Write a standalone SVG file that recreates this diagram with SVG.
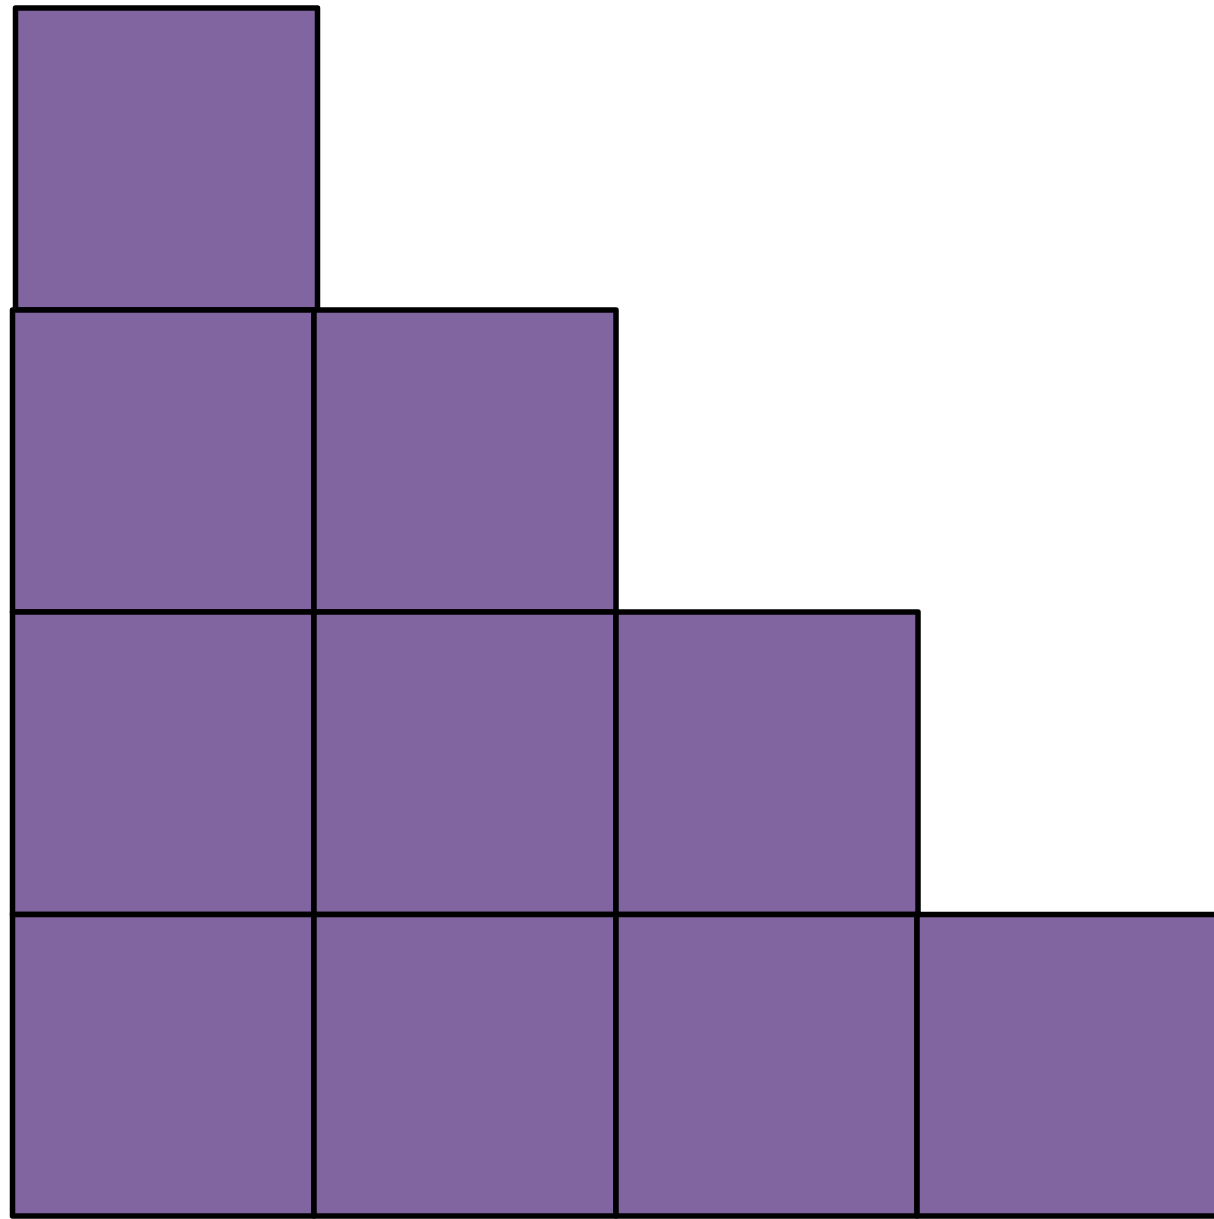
<svg xmlns="http://www.w3.org/2000/svg" width="1214" height="1219" viewBox="0 0 1214 1219">
  <style>
    .cell { fill: #8165a1; stroke: #000000; stroke-width: 5.5; stroke-linejoin: round; }
  </style>
  <rect x="0" y="0" width="1214" height="1219" fill="#ffffff"/>
  <g id="row1">
    <rect id="c11" class="cell" x="15.5" y="8" width="302" height="302"/>
  </g>
  <g id="row2">
    <rect id="c21" class="cell" x="12.5" y="310" width="301.5" height="302"/>
    <rect id="c22" class="cell" x="314" y="310" width="302" height="302"/>
  </g>
  <g id="row3">
    <rect id="c31" class="cell" x="12.5" y="612" width="301.5" height="302.5"/>
    <rect id="c32" class="cell" x="314" y="612" width="302" height="302.5"/>
    <rect id="c33" class="cell" x="616" y="612" width="302" height="302.5"/>
  </g>
  <g id="row4">
    <rect id="c41" class="cell" x="12.5" y="914.5" width="301.5" height="301.5"/>
    <rect id="c42" class="cell" x="314" y="914.5" width="302" height="301.5"/>
    <rect id="c43" class="cell" x="616" y="914.5" width="301" height="301.5"/>
    <rect id="c44" class="cell" x="917" y="914.5" width="303" height="301.5"/>
  </g>
  <g id="connectors"></g>
</svg>
